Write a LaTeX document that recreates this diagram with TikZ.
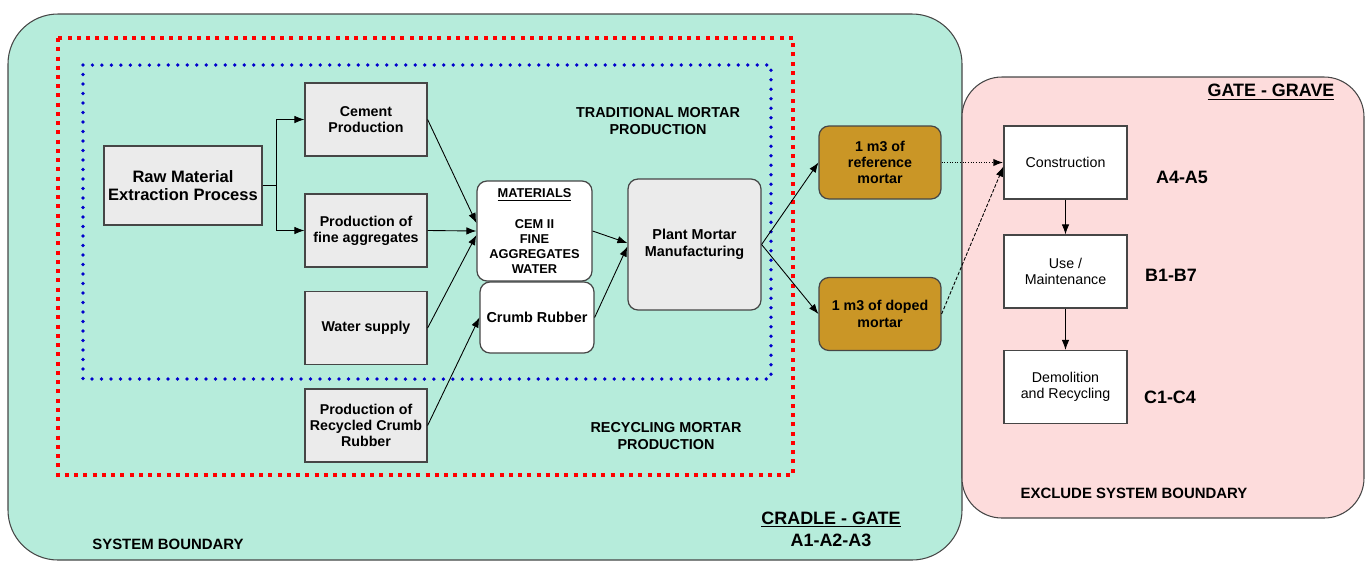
\documentclass[tikz,border=0pt]{standalone}
\usepackage{fontspec}
\setmainfont{Liberation Sans}
\usetikzlibrary{arrows.meta}
\definecolor{cradlegreen}{RGB}{182,236,219}
\definecolor{gravepink}{RGB}{253,220,220}
\definecolor{boxgray}{RGB}{235,235,235}
\definecolor{mortargold}{RGB}{202,150,38}
\definecolor{edgegray}{RGB}{70,70,70}
\tikzset{
  flow/.style={-{Latex[length=0.2cm,width=0.15cm]}, black, line width=0.5pt},
  procbox/.style={draw=edgegray, line width=0.7pt, fill=boxgray, align=center, inner sep=1pt,
    minimum width=2.44cm, minimum height=1.46cm, font=\bfseries\fontsize{8.1}{9.2}\selectfont},
  roundbox/.style={draw=edgegray, line width=0.7pt, fill=white, rounded corners=0.2cm, align=center,
    inner sep=1pt, font=\bfseries\fontsize{8.2}{9.4}\selectfont},
  goldbox/.style={draw=edgegray, line width=0.7pt, fill=mortargold, rounded corners=0.2cm, align=center,
    inner sep=1pt, minimum width=2.44cm, minimum height=1.46cm, font=\bfseries\fontsize{8.1}{9.3}\selectfont},
  stagebox/.style={draw=edgegray, line width=0.7pt, fill=white, align=center, inner sep=1pt,
    minimum width=2.46cm, minimum height=1.46cm, font=\fontsize{8.1}{9.3}\selectfont},
  lbl/.style={align=center, inner sep=0pt, font=\bfseries\fontsize{8.2}{9.6}\selectfont},
  biglbl/.style={align=center, inner sep=0pt, font=\bfseries\fontsize{10.2}{12.5}\selectfont}
}
\begin{document}
\begin{tikzpicture}[x=0.02cm, y=-0.02cm]
\useasboundingbox (0,0) rectangle (1366,562);
\draw[edgegray, fill=cradlegreen, rounded corners=1cm, line width=0.6pt] (8,14) rectangle (962,560);
\draw[edgegray, fill=gravepink, rounded corners=0.8cm, line width=0.6pt] (962,77) rectangle (1364,518);
\draw[red, line width=0.07cm, dash pattern=on 0.08cm off 0.105cm] (58,38) rectangle (793,475);
\draw[blue!80!black, line width=0.075cm, line cap=round, dash pattern=on 0pt off 0.19cm] (83,65) rectangle (771,379);

\node[procbox, minimum width=3.16cm, minimum height=1.58cm, font=\bfseries\fontsize{9.4}{10.6}\selectfont] (raw) at (183,185.5) {Raw Material\\Extraction Process};
\node[procbox] (cement) at (366,119.5) {Cement\\Production};
\node[procbox] (fine) at (366,230.5) {Production of\\fine aggregates};
\node[procbox] (water) at (366,328) {Water supply};
\node[procbox] (recyc) at (366,425.5) {Production of\\Recycled Crumb\\Rubber};
\node[roundbox, minimum width=2.3cm, minimum height=2cm, font=\bfseries\fontsize{7.3}{8.5}\selectfont] (mat) at (534.5,231) {\underline{MATERIALS}\\[9.5pt]CEM II\\FINE\\AGGREGATES\\WATER};
\node[roundbox, minimum width=2.28cm, minimum height=1.42cm] (crumb) at (537,317.5) {Crumb Rubber};
\node[roundbox, fill=boxgray, minimum width=2.66cm, minimum height=2.62cm] (plant) at (694.5,244.5) {Plant Mortar\\Manufacturing};
\node[goldbox] (refm) at (880,162.5) {1 m3 of\\reference\\mortar};
\node[goldbox] (dopm) at (880,314) {1 m3 of doped\\mortar};
\node[stagebox] (cons) at (1065.5,162.5) {Construction};
\node[stagebox] (use) at (1065.5,271.5) {Use /\\Maintenance};
\node[stagebox] (demo) at (1065.5,387) {Demolition\\and Recycling};

\draw[flow] (raw.east) -- ++(14,0) |- (cement.west);
\draw[flow] (raw.east) -- ++(14,0) |- (fine.west);
\draw[flow] (cement.east) -- ([yshift=0.16cm]mat.west);
\draw[flow] (fine.east) -- (mat.west);
\draw[flow] (water.east) -- ([yshift=-0.08cm]mat.west);
\draw[flow] (recyc.east) -- (crumb.west);
\draw[flow] (mat.east) -- ([yshift=0.03cm]plant.west);
\draw[flow] (crumb.east) -- ([yshift=-0.04cm]plant.west);
\draw[flow] (plant.east) -- (refm.west);
\draw[flow] (plant.east) -- (dopm.west);
\draw[flow, densely dotted, line width=1pt] (refm.east) -- (cons.west);
\draw[flow, dash pattern=on 2pt off 1pt] (dopm.east) -- ([yshift=-0.08cm]cons.west);
\draw[flow] (cons) -- (use);
\draw[flow] (use) -- (demo);

\node[lbl] (trad) at (658,121) {TRADITIONAL MORTAR\\PRODUCTION};
\node[lbl] (recl) at (666,436) {RECYCLING MORTAR\\PRODUCTION};
\node[lbl, font=\bfseries\fontsize{8.5}{10}\selectfont] (sysb) at (168,544) {SYSTEM BOUNDARY};
\node[lbl, font=\bfseries\fontsize{8.5}{10}\selectfont] (excl) at (1134,493) {EXCLUDE SYSTEM BOUNDARY};
\node[biglbl] (cradle) at (831,529) {\underline{CRADLE - GATE}\\A1-A2-A3};
\node[biglbl] (grave) at (1271,92) {\underline{GATE - GRAVE}};
\node[biglbl] (stagea) at (1182,177) {A4-A5};
\node[biglbl] (stageb) at (1171,275) {B1-B7};
\node[biglbl] (stagec) at (1170,397) {C1-C4};
\end{tikzpicture}
\end{document}
